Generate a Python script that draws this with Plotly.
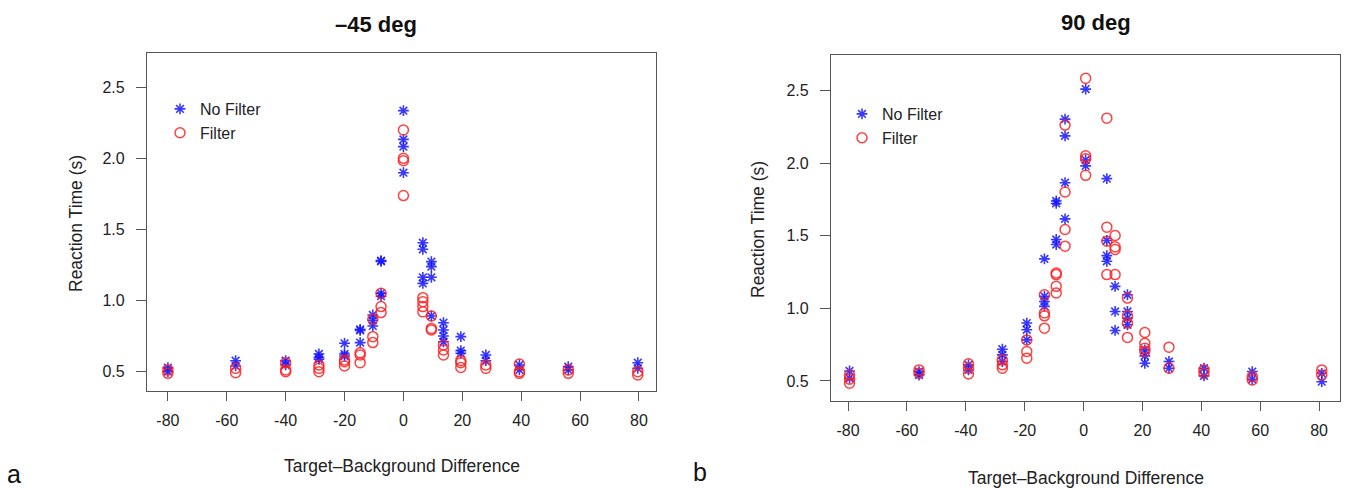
import plotly.graph_objects as go

# Target-background difference levels (deg) for each panel
NEG45_LEVELS = [-80, -57, -40, -28.7, -20, -14.7, -10.4, -7.6, 0, 6.6, 9.5, 13.6, 19.5, 28, 39.4, 56, 79.6]
DEG90_LEVELS = [-79.5, -55.9, -39.1, -27.6, -19.3, -13.3, -9.3, -6.3, 0.7, 7.9, 10.7, 14.9, 20.8, 29, 40.9, 57.3, 80.9]

# Reaction times (s) per level, -45 deg
NEG45_NO_FILTER = [
    [0.528, 0.50], [0.577, 0.54], [0.577, 0.547], [0.624, 0.60, 0.587],
    [0.699, 0.624, 0.61], [0.797, 0.79, 0.704], [0.898, 0.86, 0.821],
    [1.28, 1.275, 1.05, 1.03], [2.334, 2.132, 2.081, 1.898],
    [1.406, 1.36, 1.163, 1.12], [1.273, 1.238, 1.163, 0.891],
    [0.844, 0.793, 0.75, 0.71], [0.746, 0.648, 0.629], [0.617, 0.577],
    [0.547, 0.512], [0.535, 0.512], [0.563, 0.523],
]
NEG45_FILTER = [
    [0.512, 0.488], [0.523, 0.493], [0.563, 0.512, 0.50], [0.547, 0.523, 0.50],
    [0.582, 0.57, 0.54], [0.633, 0.617, 0.563], [0.868, 0.746, 0.704],
    [1.05, 0.957, 0.915], [2.198, 1.999, 1.982, 1.737],
    [1.02, 0.992, 0.957, 0.92], [0.891, 0.804, 0.793],
    [0.687, 0.652, 0.617], [0.577, 0.563, 0.53], [0.547, 0.523],
    [0.554, 0.50, 0.488], [0.512, 0.488], [0.50, 0.477],
]

# Reaction times (s) per level, 90 deg
DEG90_NO_FILTER = [
    [0.569, 0.518], [0.565, 0.541], [0.611, 0.576], [0.719, 0.68, 0.634],
    [0.899, 0.853, 0.783], [1.341, 1.083, 1.048, 1.014],
    [1.74, 1.723, 1.475, 1.44], [2.304, 2.189, 1.866, 1.617],
    [2.511, 2.023, 1.982], [1.894, 1.468, 1.364, 1.325],
    [1.152, 0.979, 0.848], [1.094, 0.979, 0.933, 0.887],
    [0.714, 0.673, 0.622], [0.634, 0.588], [0.588, 0.535],
    [0.565, 0.512], [0.553, 0.495],
]
DEG90_FILTER = [
    [0.541, 0.512, 0.484], [0.576, 0.553], [0.618, 0.588, 0.548],
    [0.645, 0.611, 0.588], [0.783, 0.703, 0.657], [1.094, 0.968, 0.949, 0.864],
    [1.244, 1.233, 1.152, 1.106], [2.263, 1.802, 1.544, 1.429],
    [2.585, 2.051, 2.032, 1.917], [2.311, 1.56, 1.463, 1.233],
    [1.502, 1.424, 1.406, 1.233], [1.071, 0.949, 0.899, 0.80],
    [0.834, 0.76, 0.726, 0.703], [0.733, 0.588], [0.576, 0.553],
    [0.53, 0.507], [0.576, 0.541],
]

X_TICKS = [-80, -60, -40, -20, 0, 20, 40, 60, 80]
X_TICK_LABELS = ["-80", "-60", "-40", "-20", "0", "20", "40", "60", "80"]
Y_TICKS = [0.5, 1.0, 1.5, 2.0, 2.5]
Y_TICK_LABELS = ["0.5", "1.0", "1.5", "2.0", "2.5"]

PANEL_TITLES = ["\u201345 deg", "90 deg"]
SERIES_NAMES = ["No Filter", "Filter"]
X_TITLE = "Target\u2013Background Difference"
Y_TITLE = "Reaction Time (s)"

BLUE = "rgba(20,20,255,0.85)"
RED = "rgba(255,30,30,0.85)"
FONT = "Liberation Sans, Arial, sans-serif"
AXIS_COLOR = "#555555"
TEXT_COLOR = "#222222"


def flatten(levels, groups):
    xs, ys = [], []
    for x, vals in zip(levels, groups):
        for v in vals:
            xs.append(x)
            ys.append(v)
    return xs, ys


fig = go.Figure()

panels = [
    (NEG45_LEVELS, NEG45_NO_FILTER, NEG45_FILTER, "x", "y", "legend"),
    (DEG90_LEVELS, DEG90_NO_FILTER, DEG90_FILTER, "x2", "y2", "legend2"),
]
for levels, nofilt, filt, xa, ya, leg in panels:
    xs, ys = flatten(levels, nofilt)
    fig.add_trace(go.Scatter(
        x=xs, y=ys, mode="markers", name=SERIES_NAMES[0], xaxis=xa, yaxis=ya, legend=leg,
        marker=dict(symbol="asterisk-open", size=9, color=BLUE, line=dict(color=BLUE, width=1.6)),
    ))
    xs, ys = flatten(levels, filt)
    fig.add_trace(go.Scatter(
        x=xs, y=ys, mode="markers", name=SERIES_NAMES[1], xaxis=xa, yaxis=ya, legend=leg,
        marker=dict(symbol="circle-open", size=10, color=RED, line=dict(color=RED, width=1.5)),
    ))

W, H = 1355, 489


def px_x(p):
    return p / W


def px_y(p):
    return 1 - p / H


common_x = dict(
    tickvals=X_TICKS, ticktext=X_TICK_LABELS, showgrid=False, zeroline=False,
    showline=True, linecolor=AXIS_COLOR, linewidth=1.2, mirror=True,
    ticks="outside", ticklen=9, tickwidth=1.2, tickcolor=AXIS_COLOR,
    ticklabelstandoff=6, tickfont=dict(family=FONT, size=16, color=TEXT_COLOR),
)
common_y = dict(
    tickvals=Y_TICKS, ticktext=Y_TICK_LABELS, showgrid=False, zeroline=False,
    showline=True, linecolor=AXIS_COLOR, linewidth=1.2, mirror=True,
    ticks="outside", ticklen=10, tickwidth=1.2, tickcolor=AXIS_COLOR,
    ticklabelstandoff=8, tickfont=dict(family=FONT, size=16, color=TEXT_COLOR),
)

legend_common = dict(
    bgcolor="rgba(0,0,0,0)", borderwidth=0, font=dict(family=FONT, size=16, color=TEXT_COLOR),
    xanchor="left", yanchor="top", tracegroupgap=0, itemwidth=30,
)

fig.update_layout(
    width=W, height=H, margin=dict(l=0, r=0, t=0, b=0),
    paper_bgcolor="white", plot_bgcolor="white",
    font=dict(family=FONT, color=TEXT_COLOR),
    xaxis=dict(domain=[px_x(147), px_x(656)], range=[-87.1, 85.8], anchor="y", **common_x),
    yaxis=dict(domain=[px_y(391), px_y(53)], range=[0.364, 2.739], anchor="x", **common_y),
    xaxis2=dict(domain=[px_x(831), px_x(1340)], range=[-85.8, 87.1], anchor="y2", **common_x),
    yaxis2=dict(domain=[px_y(401), px_y(55)], range=[0.362, 2.746], anchor="x2", **common_y),
    legend=dict(x=px_x(160), y=px_y(92), **legend_common),
    legend2=dict(x=px_x(842), y=px_y(97), **legend_common),
    showlegend=True,
)

annotations = [
    dict(text="<b>" + PANEL_TITLES[0] + "</b>", x=px_x(376), y=px_y(24), font=dict(size=22)),
    dict(text="<b>" + PANEL_TITLES[1] + "</b>", x=px_x(1096), y=px_y(23), font=dict(size=22)),
    dict(text=X_TITLE, x=px_x(402), y=px_y(466), font=dict(size=17.5)),
    dict(text=X_TITLE, x=px_x(1086), y=px_y(478), font=dict(size=17.5)),
    dict(text=Y_TITLE, x=px_x(76), y=px_y(224), textangle=-90, font=dict(size=17.5)),
    dict(text=Y_TITLE, x=px_x(758), y=px_y(230), textangle=-90, font=dict(size=17.5)),
    dict(text="a", x=px_x(14), y=px_y(474), font=dict(size=25)),
    dict(text="b", x=px_x(700), y=px_y(472), font=dict(size=25)),
]
for a in annotations:
    a.update(xref="paper", yref="paper", showarrow=False, xanchor="center", yanchor="middle")
    a["font"].update(family=FONT, color=TEXT_COLOR if a["font"]["size"] < 20 else "#111111")
fig.update_layout(annotations=annotations)

fig.write_html("out.html")
